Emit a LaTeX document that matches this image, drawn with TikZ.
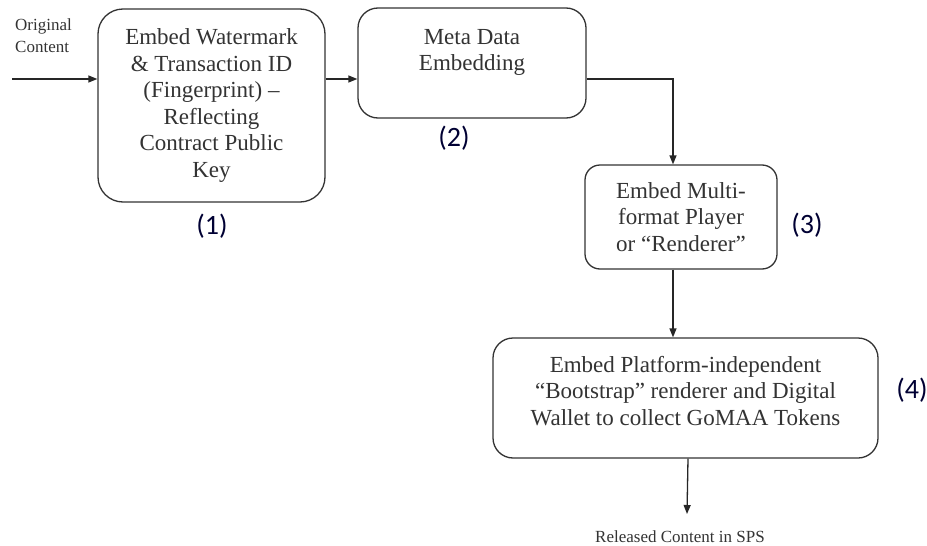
\documentclass[tikz,border=0pt]{standalone}
\usepackage{fontspec}
\setmainfont{Liberation Serif}
\newfontfamily\calib{Carlito}
\usetikzlibrary{arrows.meta}
\begin{document}
\begin{tikzpicture}[x=1pt,y=-1pt,
  box/.style={draw=black!80, line width=1.3pt, rounded corners=#1, fill=white, align=center, inner sep=0pt,
    font=\fontsize{23}{26.5}\selectfont, text=black!80},
  arr/.style={-{Triangle[length=9pt,width=7pt]}, line width=1.3pt, draw=black!85},
  num/.style={font=\calib\fontsize{28}{30}\selectfont, text=black!80!blue},
  small/.style={font=\fontsize{17}{22}\selectfont, text=black!80, inner sep=0pt}]
\useasboundingbox (0,0) rectangle (927,546);
\node[box=25pt, minimum width=227pt, minimum height=193pt] (b1) at (211.5,105.5)
  {Embed Watermark\\ \& Transaction ID\\ (Fingerprint) –\\ Reflecting\\ Contract Public\\ Key};
\node[box=20pt, minimum width=228pt, minimum height=110pt] (b2) at (472,63)
  {Meta Data\\Embedding\\~};
\node[box=15pt, minimum width=192pt, minimum height=104pt] (b3) at (681,217)
  {Embed Multi-\\format Player\\or “Renderer”};
\node[box=20pt, minimum width=385pt, minimum height=120pt] (b4) at (685.5,398)
  {Embed Platform-independent\\“Bootstrap” renderer and Digital\\Wallet to collect GoMAA Tokens\\[-12pt]~};
\node[small, align=left, anchor=west] (orig) at (15,36) {Original\\Content};
\node[small] (rel) at (680,537) {Released Content in SPS};
\node[num] (n1) at (212,226) {(1)};
\node[num] (n2) at (454,138) {(2)};
\node[num] (n3) at (807,225) {(3)};
\node[num] (n4) at (912,390) {(4)};
\coordinate (in) at (12,79);
\coordinate (out) at (687,514);
\draw[arr] (in) -- (in -| b1.west);
\draw[arr] (b1.east |- in) -- (b2.west |- in);
\draw[arr] (b2.east |- in) -| ([xshift=-8pt]b3.north);
\draw[arr] ([xshift=-8pt]b3.south) -- ([xshift=-8pt]b3.south |- b4.north);
\draw[arr] ([xshift=2.5pt]b4.south) -- (out);
\end{tikzpicture}
\end{document}
